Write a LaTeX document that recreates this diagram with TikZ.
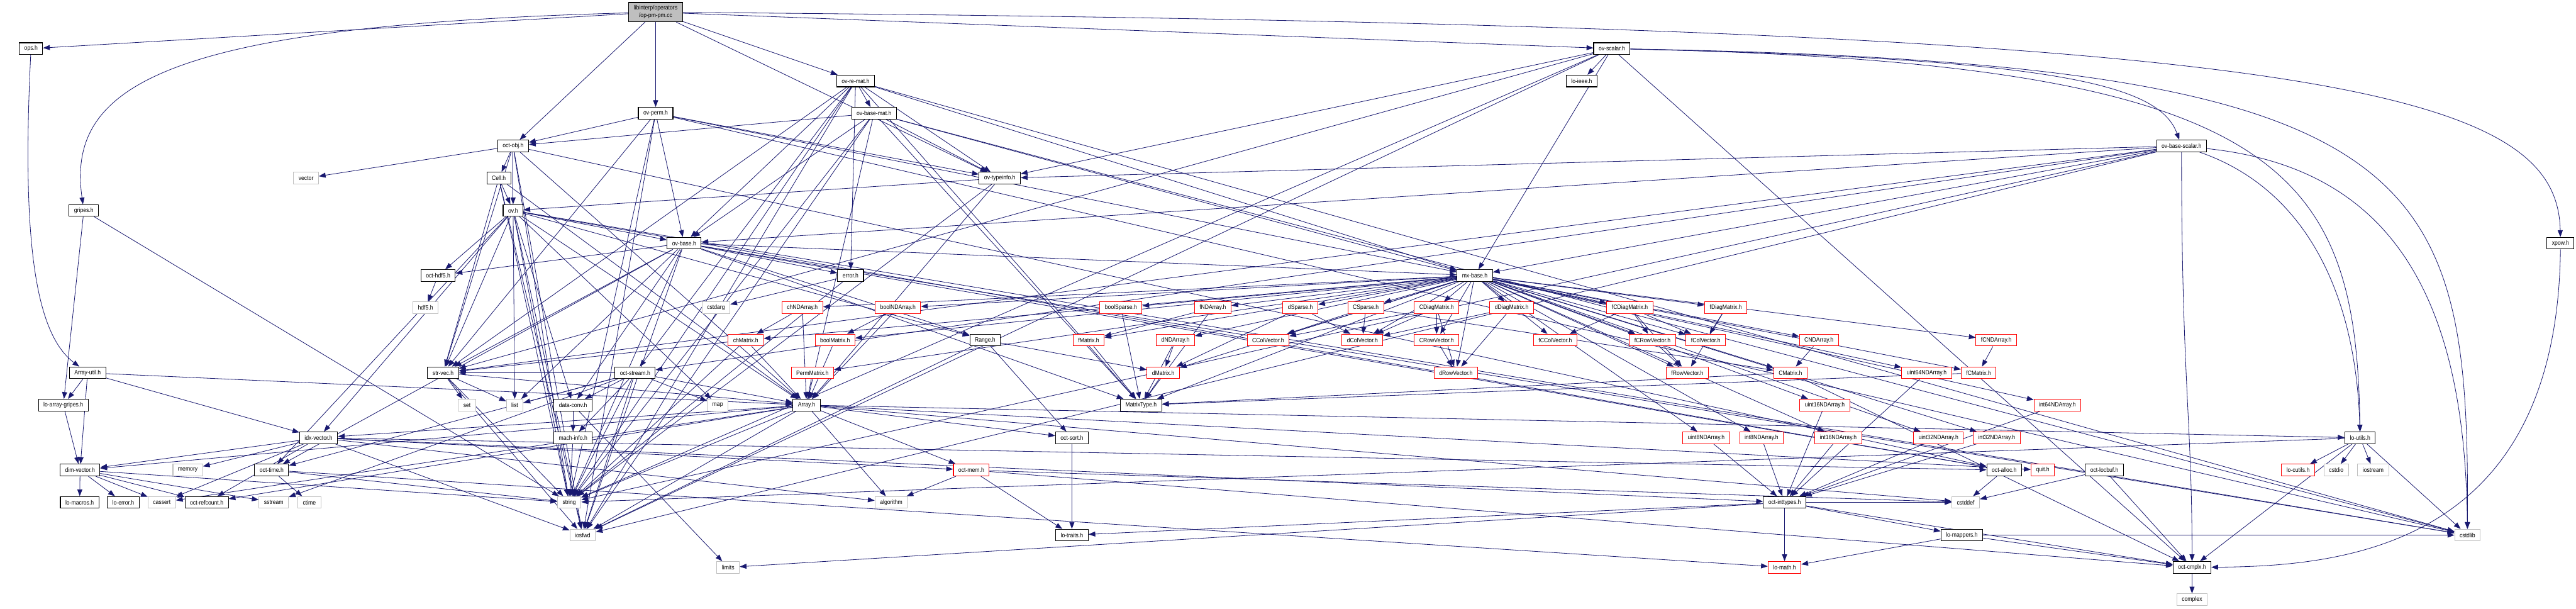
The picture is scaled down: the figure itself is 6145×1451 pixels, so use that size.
\documentclass[tikz,border=0pt]{standalone}
\usepackage{fontspec}
\usepackage{xcolor}
\usepackage{tikz}
\usetikzlibrary{arrows.meta,backgrounds}
\newfontfamily\dxfont[FakeStretch=0.88]{Liberation Sans}
\definecolor{edgeblue}{RGB}{25,25,112}
\definecolor{sysgray}{RGB}{191,191,191}

\begin{document}
\begin{tikzpicture}[x=0.01cm, y=-0.01cm,
    hdr/.style={draw=black, line width=0.45pt, fill=white, minimum height=0.28cm, inner xsep=0.12cm, inner ysep=0pt, font=\dxfont\fontsize{4.2}{5.1}\selectfont},
    missing/.style={hdr, draw=red},
    sys/.style={hdr, draw=sysgray},
    root/.style={hdr, fill=sysgray, align=center, minimum height=0.46cm},
    trans/.style={-{Triangle[length=4.6pt,width=3.4pt]}, color=edgeblue, line width=0.35pt},
]
    \useasboundingbox (0,0) rectangle (6145,1451);

    % upper part: the octave-value headers
    \node[root] (op) at (1564,29) {libinterp/operators\\/op-pm-pm.cc};
    \node[hdr] (ops) at (74,116) {ops.h};
    \node[hdr] (ovscalar) at (3845,116) {ov-scalar.h};
    \node[hdr] (ovremat) at (2041,193) {ov-re-mat.h};
    \node[hdr] (loieee) at (3773,193) {lo-ieee.h};
    \node[hdr] (ovperm) at (1564,270) {ov-perm.h};
    \node[hdr] (ovbasemat) at (2085,270) {ov-base-mat.h};
    \node[hdr] (octobj) at (1224,348) {oct-obj.h};
    \node[hdr] (ovbasescalar) at (5204,348) {ov-base-scalar.h};
    \node[sys] (vector) at (730,425) {vector};
    \node[hdr] (cell) at (1190,425) {Cell.h};
    \node[hdr] (ovtypeinfo) at (2385,425) {ov-typeinfo.h};
    \node[hdr] (gripes) at (200,502) {gripes.h};
    \node[hdr] (ov) at (1224,502) {ov.h};
    \node[hdr] (ovbase) at (1632,580) {ov-base.h};
    \node[hdr] (xpow) at (6108,580) {xpow.h};
    \node[hdr] (octhdf5) at (1045,657) {oct-hdf5.h};
    \node[hdr] (error) at (2029,657) {error.h};
    \node[hdr] (mxbase) at (3518,657) {mx-base.h};

    % matrix types
    \node[sys] (hdf5) at (1015,734) {hdf5.h};
    \node[sys] (cstdarg) at (1708,734) {cstdarg};
    \node[missing] (chnd) at (1914,734) {chNDArray.h};
    \node[missing] (boolnd) at (2142,734) {boolNDArray.h};
    \node[missing] (boolsparse) at (2674,734) {boolSparse.h};
    \node[missing] (fnd) at (2893,734) {fNDArray.h};
    \node[missing] (dsparse) at (3102,734) {dSparse.h};
    \node[missing] (csparse) at (3258,734) {CSparse.h};
    \node[missing] (cdiag) at (3427,734) {CDiagMatrix.h};
    \node[missing] (ddiag) at (3606,734) {dDiagMatrix.h};
    \node[missing] (fcdiag) at (3888,734) {fCDiagMatrix.h};
    \node[missing] (fdiag) at (4117,734) {fDiagMatrix.h};

    \node[missing] (chmatrix) at (1779,811) {chMatrix.h};
    \node[missing] (boolmatrix) at (1992,811) {boolMatrix.h};
    \node[hdr] (range) at (2350,811) {Range.h};
    \node[missing] (fmatrix) at (2597,811) {fMatrix.h};
    \node[missing] (dnd) at (2804,811) {dNDArray.h};
    \node[missing] (ccolvec) at (3025,811) {CColVector.h};
    \node[missing] (dcolvec) at (3250,811) {dColVector.h};
    \node[missing] (crowvec) at (3427,811) {CRowVector.h};
    \node[missing] (fccolvec) at (3710,811) {fCColVector.h};
    \node[missing] (fcrowvec) at (3942,811) {fCRowVector.h};
    \node[missing] (fcolvec) at (4069,811) {fColVector.h};
    \node[missing] (cnd) at (4339,811) {CNDArray.h};
    \node[missing] (fcnd) at (4762,811) {fCNDArray.h};

    \node[hdr] (arrayutil) at (209,889) {Array-util.h};
    \node[hdr] (strvec) at (1057,889) {str-vec.h};
    \node[hdr] (octstream) at (1515,889) {oct-stream.h};
    \node[missing] (permmatrix) at (1938,889) {PermMatrix.h};
    \node[missing] (dmatrix) at (2775,889) {dMatrix.h};
    \node[missing] (drowvec) at (3473,889) {dRowVector.h};
    \node[missing] (frowvec) at (4025,889) {fRowVector.h};
    \node[missing] (cmatrix) at (4271,889) {CMatrix.h};
    \node[missing] (uint64nd) at (4596,889) {uint64NDArray.h};
    \node[missing] (fcmatrix) at (4720,889) {fCMatrix.h};

    \node[hdr] (loarraygripes) at (151,966) {lo-array-gripes.h};
    \node[sys] (set) at (1114,966) {set};
    \node[sys] (list) at (1228,966) {list};
    \node[hdr] (dataconv) at (1367,966) {data-conv.h};
    \node[sys] (map) at (1712,966) {map};
    \node[hdr] (array) at (1924,966) {Array.h};
    \node[hdr] (matrixtype) at (2722,966) {MatrixType.h};
    \node[missing] (uint16nd) at (4353,966) {uint16NDArray.h};
    \node[missing] (int64nd) at (4908,966) {int64NDArray.h};

    \node[hdr] (idxvector) at (760,1044) {idx-vector.h};
    \node[hdr] (machinfo) at (1367,1044) {mach-info.h};
    \node[hdr] (octsort) at (2557,1044) {oct-sort.h};
    \node[missing] (uint8nd) at (4070,1044) {uint8NDArray.h};
    \node[missing] (int8nd) at (4202,1044) {int8NDArray.h};
    \node[missing] (int16nd) at (4385,1044) {int16NDArray.h};
    \node[missing] (uint32nd) at (4624,1044) {uint32NDArray.h};
    \node[missing] (int32nd) at (4763,1044) {int32NDArray.h};
    \node[hdr] (loutils) at (5630,1044) {lo-utils.h};

    % low-level headers
    \node[hdr] (dimvector) at (191,1121) {dim-vector.h};
    \node[sys] (memory) at (448,1121) {memory};
    \node[hdr] (octtime) at (648,1121) {oct-time.h};
    \node[missing] (octmem) at (2317,1121) {oct-mem.h};
    \node[hdr] (octalloc) at (4781,1121) {oct-alloc.h};
    \node[missing] (quit) at (4873,1121) {quit.h};
    \node[hdr] (octlocbuf) at (5020,1121) {oct-locbuf.h};
    \node[missing] (locutils) at (5482,1121) {lo-cutils.h};
    \node[sys] (cstdio) at (5573,1121) {cstdio};
    \node[sys] (iostream) at (5661,1121) {iostream};

    \node[hdr] (lomacros) at (190,1198) {lo-macros.h};
    \node[hdr] (loerror) at (294,1198) {lo-error.h};
    \node[sys] (cassert) at (386,1198) {cassert};
    \node[hdr] (octrefcount) at (493,1198) {oct-refcount.h};
    \node[sys] (sstream) at (653,1198) {sstream};
    \node[sys] (ctime) at (738,1198) {ctime};
    \node[sys] (string) at (1358,1198) {string};
    \node[sys] (algorithm) at (2126,1198) {algorithm};
    \node[hdr] (octinttypes) at (4257,1198) {oct-inttypes.h};
    \node[sys] (cstddef) at (4689,1198) {cstddef};

    \node[sys] (iosfwd) at (1390,1276) {iosfwd};
    \node[hdr] (lotraits) at (2557,1276) {lo-traits.h};
    \node[hdr] (lomappers) at (4680,1276) {lo-mappers.h};
    \node[sys] (cstdlib) at (5886,1276) {cstdlib};

    \node[sys] (limits) at (1737,1353) {limits};
    \node[missing] (lomath) at (4257,1353) {lo-math.h};
    \node[hdr] (octcmplx) at (5229,1353) {oct-cmplx.h};
    \node[sys] (complex) at (5229,1430) {complex};

    \begin{scope}[on background layer]
    \fill[white] (0,0) rectangle (6145,1451);

    \path[trans] (op) edge (ops) edge (octobj) edge (ovperm) edge (ovremat) edge (ovscalar) edge (ovtypeinfo);
    \draw[trans] (op) .. controls (400,60) and (157,200) .. (gripes);
    \draw[trans] (op) .. controls (5500,60) and (6100,200) .. (xpow);
    \draw[trans] (ops) .. controls (50,600) and (90,800) .. (arrayutil);
    \path[trans] (gripes) edge (loarraygripes) edge (string);
    \path[trans] (ovperm) edge (octobj) edge (ovbase) edge (ovtypeinfo) edge (mxbase) edge (strvec) edge (string) edge (iosfwd) edge (cstdlib);
    \path[trans] (ovremat) edge (ovbasemat) edge (error) edge (ovtypeinfo) edge (ovbase) edge (octstream) edge (strvec) edge (mxbase) edge (matrixtype) edge (cstdlib) edge (iosfwd) edge (string);
    \path[trans] (ovbasemat) edge (ovtypeinfo) edge (ovbase) edge (octobj) edge (mxbase) edge (matrixtype) edge (array) edge (cstdlib) edge (iosfwd) edge (string);
    \path[trans] (ovscalar) edge (loieee) edge (ovtypeinfo) edge (mxbase) edge (strvec) edge (iosfwd) edge (string) edge (octcmplx);
    \draw[trans] (ovscalar) .. controls (4900,140) and (5150,200) .. (ovbasescalar);
    \draw[trans] (ovscalar) .. controls (5800,150) and (5890,400) .. (cstdlib);
    \draw[trans] (ovscalar) .. controls (5450,150) and (5620,400) .. (loutils);
    \path[trans] (ovbasescalar) edge (iosfwd) edge (string) edge (mxbase) edge (strvec) edge (ovbase) edge (ovtypeinfo) edge (octstream);
    \draw[trans] (ovbasescalar) .. controls (5700,400) and (5880,700) .. (cstdlib);
    \draw[trans] (ovbasescalar) .. controls (5500,450) and (5620,700) .. (loutils);
    \draw[trans] (ovbasescalar) .. controls (5204,900) and (5229,1000) .. (octcmplx);
    \draw[trans] (xpow) .. controls (6100,1300) and (5600,1350) .. (octcmplx);
    \path[trans] (octobj) edge (vector) edge (cell) edge (ov) edge (strvec) edge (array) edge (string) edge (iosfwd) edge (octalloc);
    \path[trans] (cell) edge (ov) edge (array) edge (strvec) edge (string) edge (iosfwd);
    \path[trans] (ov) edge (octhdf5) edge (ovbase) edge (string) edge (iosfwd) edge (list) edge (map) edge (range) edge (idxvector) edge (strvec) edge (dataconv) edge (octtime) edge (octalloc) edge (cstdlib) edge (array);
    \path[trans] (ovbase) edge (error) edge (octhdf5) edge (mxbase) edge (range) edge (strvec) edge (dataconv) edge (octtime) edge (string) edge (iosfwd) edge (list) edge (cstdlib) edge (matrixtype) edge (octalloc);
    \draw[trans] (octhdf5) -- (hdf5);
    \path[trans] (error) edge (cstdarg) edge (string);
    \path[trans] (ovtypeinfo) edge (string) edge (array) edge (ov);

    \path[trans] (mxbase) edge (chnd) edge (boolnd) edge (boolsparse) edge (fnd) edge (dsparse) edge (csparse) edge (cdiag) edge (ddiag) edge (fcdiag) edge (fdiag)
        edge (chmatrix) edge (boolmatrix) edge (permmatrix) edge (fmatrix) edge (dnd) edge (ccolvec) edge (dcolvec) edge (crowvec) edge (fccolvec) edge (fcrowvec) edge (fcolvec)
        edge (drowvec) edge (frowvec) edge (dmatrix) edge (cnd) edge (fcnd) edge (cmatrix) edge (fcmatrix) edge (matrixtype)
        edge (uint8nd) edge (uint16nd) edge (uint32nd) edge (uint64nd) edge (int8nd) edge (int16nd) edge (int32nd) edge (int64nd);

    \path[trans] (chnd) edge (chmatrix) edge (array);
    \path[trans] (chmatrix) edge (strvec) edge (array) edge (string);
    \path[trans] (boolnd) edge (boolmatrix) edge (array);
    \draw[trans] (boolmatrix) -- (array);
    \draw[trans] (permmatrix) -- (array);
    \draw[trans] (boolsparse) -- (matrixtype);
    \path[trans] (fnd) edge (fmatrix) edge (matrixtype);
    \path[trans] (dsparse) edge (dcolvec) edge (dmatrix);
    \path[trans] (csparse) edge (dcolvec) edge (ccolvec) edge (cmatrix);
    \path[trans] (cdiag) edge (ccolvec) edge (crowvec) edge (drowvec) edge (dcolvec);
    \path[trans] (ddiag) edge (drowvec) edge (dcolvec);
    \path[trans] (fcdiag) edge (fccolvec) edge (fcrowvec) edge (fcolvec) edge (frowvec);
    \path[trans] (fdiag) edge (fcolvec) edge (frowvec);
    \draw[trans] (crowvec) -- (drowvec);
    \draw[trans] (fcrowvec) -- (frowvec);
    \draw[trans] (cnd) -- (cmatrix);
    \draw[trans] (fcnd) -- (fcmatrix);
    \path[trans] (cmatrix) edge (matrixtype) edge (octcmplx);
    \draw[trans] (fcmatrix) -- (matrixtype);
    \path[trans] (dnd) edge (dmatrix) edge (matrixtype);
    \draw[trans] (fmatrix) -- (matrixtype);
    \draw[trans] (dmatrix) -- (matrixtype);
    \path[trans] (range) edge (dmatrix) edge (octsort) edge (iosfwd);

    \path[trans] (arrayutil) edge (array) edge (dimvector) edge (idxvector) edge (loarraygripes);
    \draw[trans] (loarraygripes) -- (dimvector);
    \path[trans] (dimvector) edge (lomacros) edge (loerror) edge (cassert) edge (octrefcount) edge (sstream) edge (string);
    \path[trans] (idxvector) edge (dimvector) edge (memory) edge (cassert) edge (octrefcount) edge (algorithm) edge (iosfwd) edge (octinttypes) edge (octalloc) edge (octmem);
    \path[trans] (octtime) edge (ctime) edge (string) edge (lomath);
    \path[trans] (strvec) edge (set) edge (list) edge (string) edge (iosfwd) edge (array);
    \path[trans] (octstream) edge (list) edge (dataconv) edge (machinfo) edge (string) edge (iosfwd) edge (map) edge (array) edge (sstream) edge (strvec) edge (octtime);
    \path[trans] (dataconv) edge (machinfo) edge (limits);
    \draw[trans] (machinfo) -- (string);
    \path[trans] (array) edge (string) edge (iosfwd) edge (algorithm) edge (octsort) edge (octmem) edge (dimvector) edge (idxvector) edge (cassert) edge (octrefcount) edge (quit) edge (loutils) edge (cstddef);
    \draw[trans] (octsort) -- (lotraits);
    \path[trans] (octmem) edge (algorithm) edge (lotraits) edge (cstddef) edge (octcmplx);

    \path[trans] (uint8nd) edge (octinttypes);
    \path[trans] (int8nd) edge (octinttypes);
    \path[trans] (uint16nd) edge (octinttypes);
    \path[trans] (int16nd) edge (octinttypes);
    \path[trans] (uint32nd) edge (octinttypes);
    \path[trans] (int32nd) edge (octinttypes);
    \path[trans] (uint64nd) edge (octinttypes);
    \path[trans] (int64nd) edge (octinttypes);
    \path[trans] (octinttypes) edge (lomath) edge (lomappers) edge (cstddef) edge (lotraits) edge (limits) edge (octcmplx);
    \path[trans] (lomappers) edge (lomath) edge (octcmplx) edge (cstdlib);
    \path[trans] (loutils) edge (locutils) edge (cstdio) edge (iostream) edge (octcmplx) edge (cstdlib) edge (string);
    \draw[trans] (octalloc) -- (cstddef);
    \path[trans] (octlocbuf) edge (cstddef) edge (octcmplx);
    \draw[trans] (octcmplx) -- (complex);
    \end{scope}
\end{tikzpicture}
\end{document}
